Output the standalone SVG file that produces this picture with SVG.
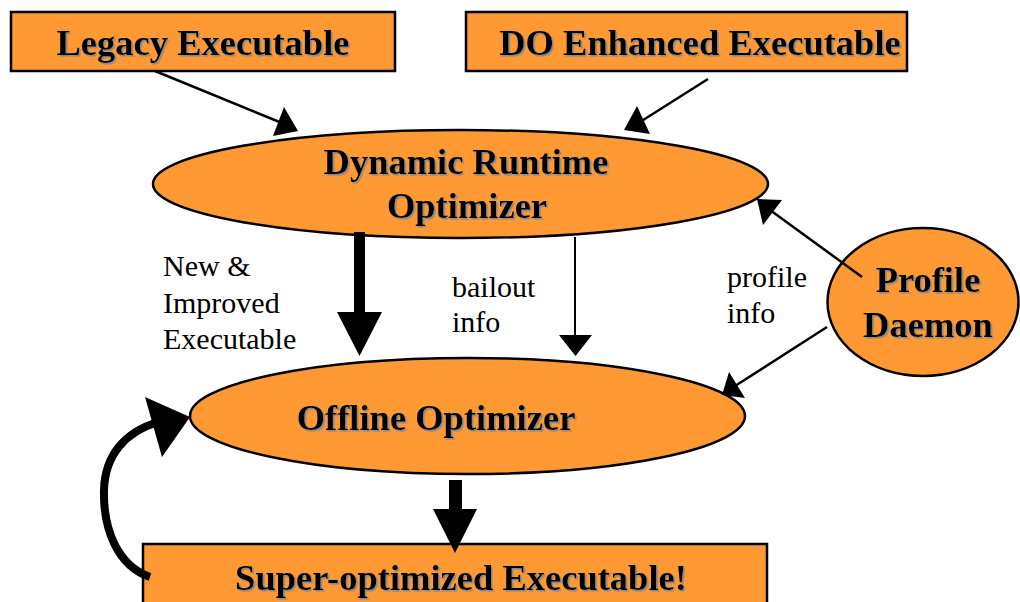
<svg xmlns="http://www.w3.org/2000/svg" width="1020" height="602" viewBox="0 0 1020 602">
<defs>
<filter id="sh" x="-5%" y="-20%" width="110%" height="140%">
<feDropShadow dx="1.6" dy="1.6" stdDeviation="0.3" flood-color="#8a8a8a" flood-opacity="1"/>
</filter>
</defs>
<style>
.node{fill:#ff9933;stroke:#000;stroke-width:2.5}
.title{font-family:"Liberation Serif","Times New Roman",serif;font-weight:bold;font-size:36.5px;fill:#000;text-anchor:middle;filter:url(#sh)}
.lbl{font-family:"Liberation Serif","Times New Roman",serif;font-size:30px;fill:#000}
.thin{stroke:#000;stroke-width:2.5;fill:none}
.thick{fill:#000;stroke:none}
.head{fill:#000;stroke:none}
</style>
<rect width="1020" height="602" fill="#fff"/>
<g id="legacy">
<rect class="node" x="11" y="12" width="384" height="59"/>
<text class="title" x="203" y="55">Legacy Executable</text>
</g>
<g id="do-enhanced">
<rect class="node" x="466" y="12" width="441" height="59"/>
<text class="title" x="700" y="55">DO Enhanced Executable</text>
</g>
<g id="dynamic">
<ellipse class="node" cx="460.5" cy="184" rx="307.5" ry="54"/>
<text class="title" x="466" y="174">Dynamic Runtime</text>
<text class="title" x="467" y="218">Optimizer</text>
</g>
<g id="profile">
<ellipse class="node" cx="923" cy="302" rx="95.5" ry="74"/>
<text class="title" x="928" y="292">Profile</text>
<text class="title" x="928" y="337">Daemon</text>
</g>
<g id="offline">
<ellipse class="node" cx="467.5" cy="416" rx="277.5" ry="58"/>
<text class="title" x="436" y="430">Offline Optimizer</text>
</g>
<g id="super">
<rect class="node" x="143" y="544" width="624" height="70"/>
<text class="title" x="461" y="590">Super-optimized Executable!</text>
</g>
<g id="connectors">
<line class="thin" x1="155" y1="71" x2="282" y2="123"/>
<polygon class="head" points="298,131 284,107 273,136"/>
<line class="thin" x1="708" y1="79" x2="640" y2="122"/>
<polygon class="head" points="624,130 637,106 650,134"/>
<line class="thin" x1="862" y1="277" x2="770" y2="210"/>
<polygon class="head" points="757,199 782,200 763,225"/>
<line class="thin" x1="827" y1="327" x2="735" y2="386"/>
<polygon class="head" points="722,395 729,372 745,398"/>
<rect class="thick" x="354" y="232" width="11" height="81"/>
<polygon class="head" points="337,312 382,312 359.5,356"/>
<line class="thin" x1="575" y1="237" x2="575" y2="336" style="stroke-width:2"/>
<polygon class="head" points="559,335 592,335 575.5,356"/>
<rect class="thick" x="449" y="480" width="13" height="30"/>
<polygon class="head" points="433,509 477,509 455,553"/>
<path class="thin" d="M 150 577 C 118 566 103 530 104 490 C 105 455 125 432 158 422" style="stroke-width:8"/>
<polygon class="head" points="145,397 190,417 162,457"/>
</g>
<g id="labels">
<text class="lbl" x="163" y="276">New &amp;</text>
<text class="lbl" x="163" y="313">Improved</text>
<text class="lbl" x="163" y="349">Executable</text>
<text class="lbl" x="452" y="297">bailout</text>
<text class="lbl" x="452" y="332">info</text>
<text class="lbl" x="727" y="287">profile</text>
<text class="lbl" x="727" y="323">info</text>
</g>
</svg>
